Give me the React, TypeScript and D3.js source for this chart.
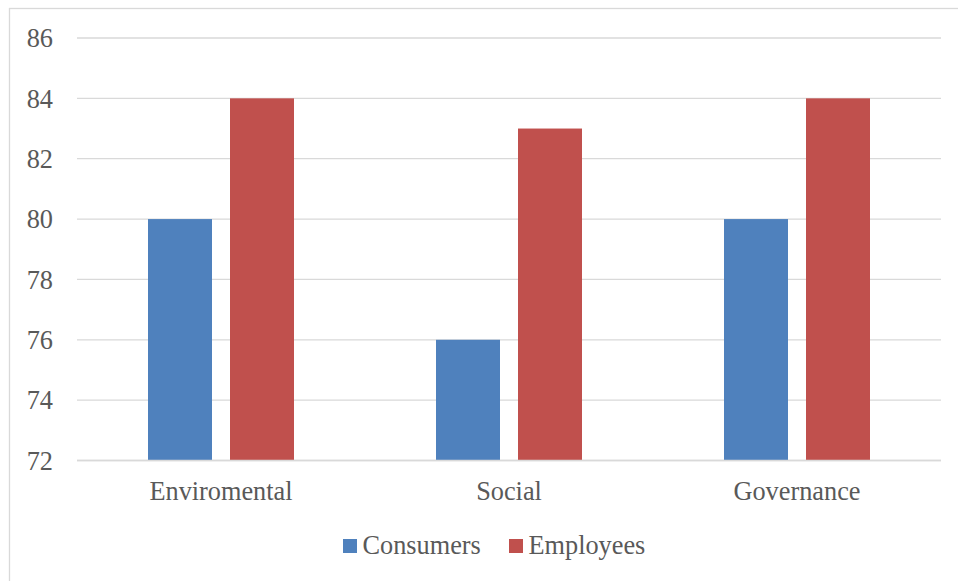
import React from "react";
import * as d3 from "d3";

const categories = ["Enviromental", "Social", "Governance"];
const seriesNames = ["Consumers", "Employees"];
const consumers = [80, 76, 80];
const employees = [84, 83, 84];
const yTicks = [72, 74, 76, 78, 80, 82, 84, 86];
const colors = ["#4F81BD", "#C0504D"];

const font = "Liberation Serif, Tinos, Times New Roman, DejaVu Serif, serif";
const textColor = "#595959";

export default function App() {
  const W = 958, H = 581;
  const left = 77, right = 941, top = 38, bottom = 460.5;
  const x0 = d3.scaleBand<string>().domain(categories).range([left, right]).padding(0);
  const groupW = 146;
  const x1 = d3
    .scaleBand<string>()
    .domain(seriesNames)
    .range([x0.bandwidth() / 2 - groupW / 2, x0.bandwidth() / 2 + groupW / 2])
    .paddingInner(18 / 82)
    .paddingOuter(0);
  const y = d3.scaleLinear().domain([72, 86]).range([bottom, top]);
  const values = [consumers, employees];
  const ts = { fontFamily: font, fontSize: "26.3px", fill: textColor } as React.CSSProperties;

  return (
    <svg
      width={W}
      height={H}
      style={{ position: "absolute", left: 0, top: 0, background: "#fff" }}
    >
      <rect x={9.5} y={8.5} width={1000} height={1000} fill="#fff" stroke="#D9D9D9" strokeWidth={1.3} />
      {yTicks.map((t) => (
        <g key={t}>
          <line x1={left} x2={right} y1={y(t)} y2={y(t)} stroke="#D9D9D9" strokeWidth={1.3} />
          <text x={53} y={y(t)} dy="0.35em" textAnchor="end" style={ts}>
            {t}
          </text>
        </g>
      ))}
      {categories.map((c, i) => (
        <g key={c} transform={`translate(${x0(c)},0)`}>
          {seriesNames.map((s, j) => (
            <rect
              key={s}
              x={x1(s)}
              y={y(values[j][i])}
              width={x1.bandwidth()}
              height={y(72) - y(values[j][i])}
              fill={colors[j]}
            />
          ))}
        </g>
      ))}
      <line x1={left} x2={right} y1={y(72)} y2={y(72)} stroke="#D9D9D9" strokeWidth={1.3} />
      {categories.map((c) => (
        <text
          key={c}
          x={(x0(c) as number) + x0.bandwidth() / 2}
          y={500}
          textAnchor="middle"
          style={ts}
        >
          {c}
        </text>
      ))}
      <g>
        <rect x={343} y={539} width={14} height={14} fill={colors[0]} />
        <text x={362.5} y={554} style={ts}>
          {seriesNames[0]}
        </text>
        <rect x={509} y={539} width={14} height={14} fill={colors[1]} />
        <text x={528.5} y={554} style={ts}>
          {seriesNames[1]}
        </text>
      </g>
    </svg>
  );
}
